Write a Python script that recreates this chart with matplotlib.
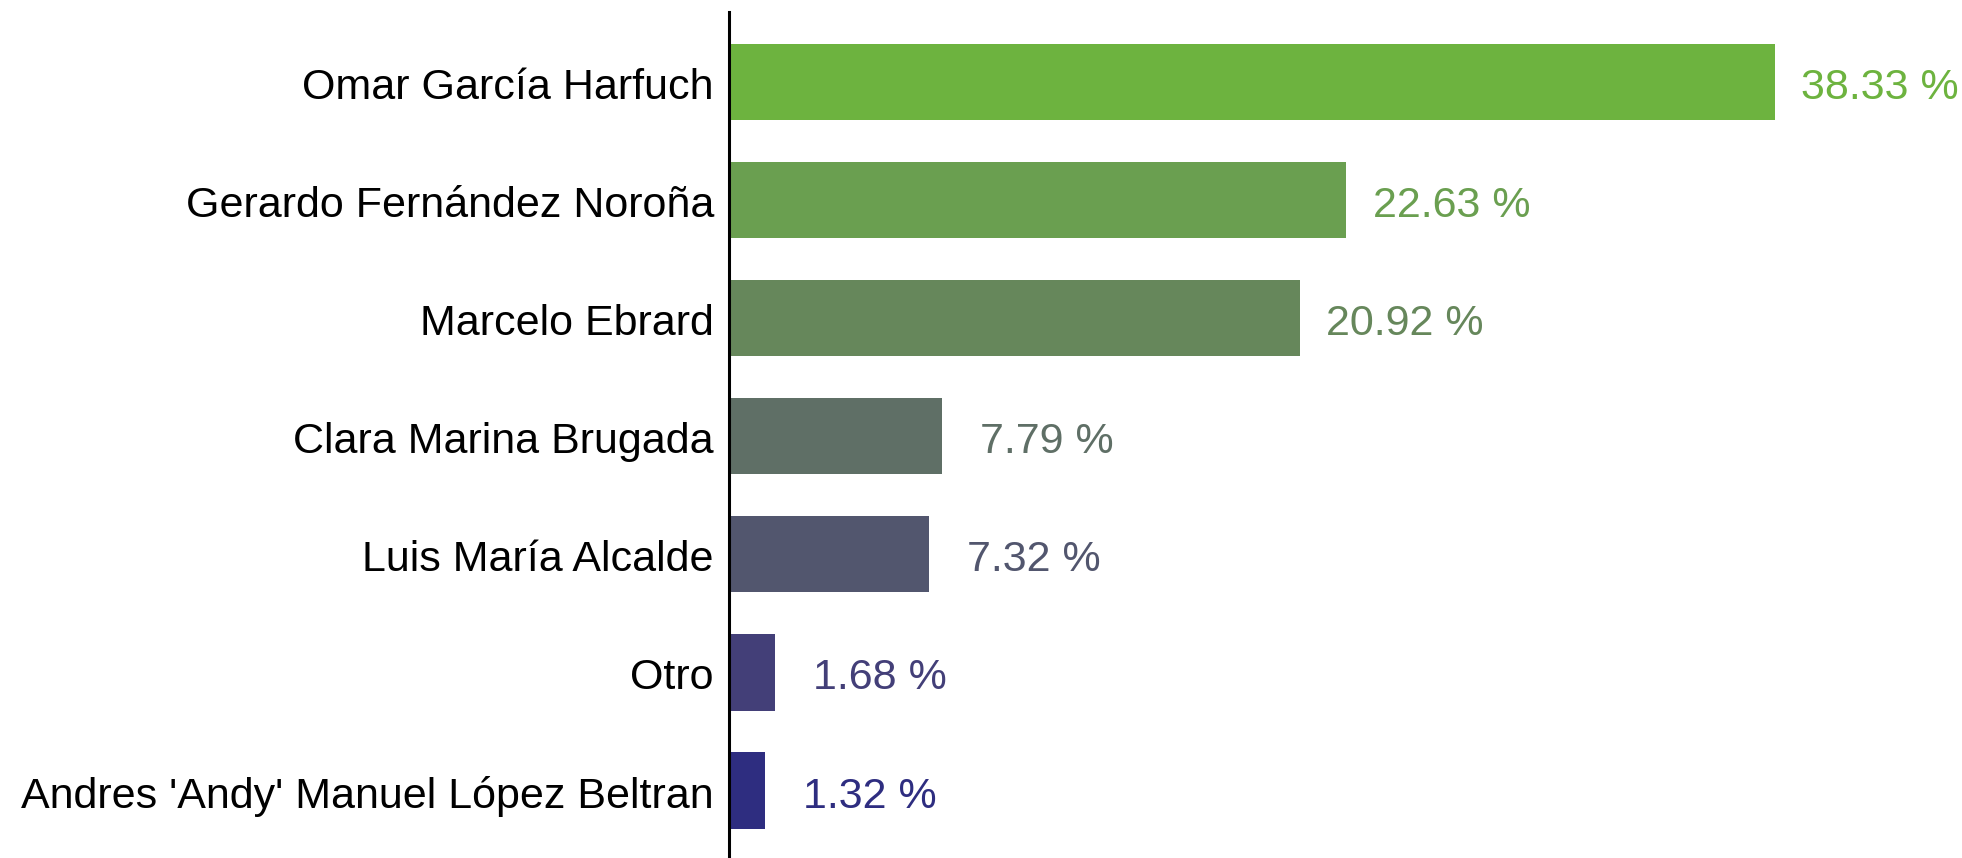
import matplotlib.pyplot as plt
from matplotlib.transforms import ScaledTranslation

plt.rcParams['font.family'] = ['Liberation Sans', 'DejaVu Sans']

candidates = ["Omar García Harfuch", "Gerardo Fernández Noroña", "Marcelo Ebrard",
              "Clara Marina Brugada", "Luis María Alcalde", "Otro",
              "Andres 'Andy' Manuel López Beltran"]
shares = [38.33, 22.63, 20.92, 7.79, 7.32, 1.68, 1.32]
colors = ['#6db33f', '#6a9f50', '#66875b', '#5f6f66', '#52566e', '#433f78', '#2e2d80']


def main():
    fig = plt.figure(figsize=(19.62, 8.58), dpi=100)
    ax = fig.add_axes([729 / 1962, 0, 1 - 729 / 1962, 1 - 12 / 858])
    # nudge text a little below the bar centre, as in the original
    shift = ScaledTranslation(0, -0.06, fig.dpi_scale_trans)

    n = len(candidates)
    ypos = [n - 1 - i for i in range(n)]
    ax.barh(ypos, shares, height=0.645, color=colors)
    for name, y, v, c in zip(candidates, ypos, shares, colors):
        ax.text(v + 3.85, y, f'{v:.2f} %', color=c, fontsize=31,
                ha='center', va='center', transform=ax.transData + shift)
        ax.text(-0.55, y, name, fontsize=31, ha='right', va='center',
                transform=ax.transData + shift)

    ax.set_xlim(0, 45.2)
    ax.set_ylim(-0.571, 6.593)
    ax.set_yticks([])
    ax.set_xticks([])
    for s in ['top', 'right', 'bottom']:
        ax.spines[s].set_visible(False)
    ax.spines['left'].set_linewidth(2.2)

    fig.savefig('out.png', dpi=100)
    plt.close(fig)


if __name__ == '__main__':
    main()
